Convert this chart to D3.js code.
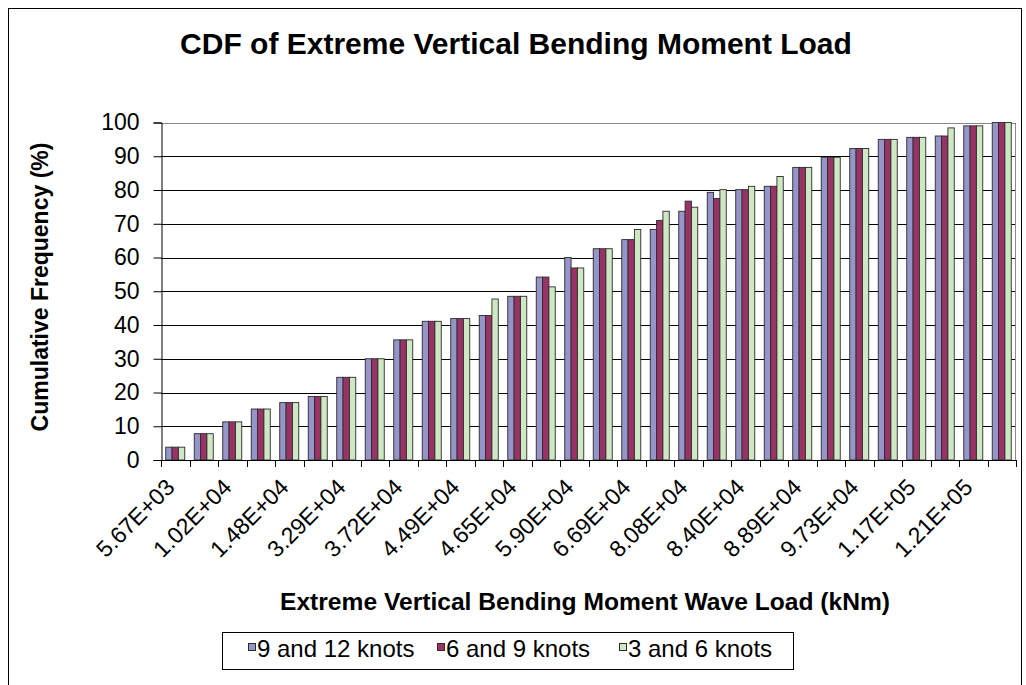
<!DOCTYPE html>
<html>
<head>
<meta charset="utf-8">
<script src="https://cdn.jsdelivr.net/npm/d3@7"></script>
<style>
  body { margin: 0; background: #fff; }
  text { font-family: "Liberation Sans", Arial, sans-serif; fill: #000; }
</style>
</head>
<body>
<div id="chart"></div>
<script>
/* DATA */
// every other category carries a label in the original chart
const categories = [
  "5.67E+03", "", "1.02E+04", "", "1.48E+04", "", "3.29E+04", "", "3.72E+04", "",
  "4.49E+04", "", "4.65E+04", "", "5.90E+04", "", "6.69E+04", "", "8.08E+04", "",
  "8.40E+04", "", "8.89E+04", "", "9.73E+04", "", "1.17E+05", "", "1.21E+05", ""
];
const seriesNames = ["9 and 12 knots", "6 and 9 knots", "3 and 6 knots"];
const knots9to12 = [3.8, 7.8, 11.3, 15.1, 17.0, 18.8, 24.5, 30.0, 35.6, 41.1,
  41.9, 42.8, 48.5, 54.2, 60.0, 62.6, 65.3, 68.3, 73.7, 79.3,
  80.1, 81.1, 86.7, 89.7, 92.3, 95.0, 95.6, 96.0, 99.0, 100];
const knots6to9 = [3.8, 7.8, 11.3, 15.1, 17.0, 18.8, 24.5, 30.0, 35.6, 41.1,
  41.9, 42.8, 48.5, 54.2, 56.9, 62.6, 65.3, 71.0, 76.7, 77.5,
  80.1, 81.1, 86.7, 89.7, 92.3, 95.0, 95.6, 96.0, 99.0, 100];
const knots3to6 = [3.8, 7.8, 11.3, 15.1, 17.0, 18.8, 24.5, 30.0, 35.6, 41.1,
  41.9, 47.7, 48.5, 51.3, 56.9, 62.6, 68.3, 73.7, 74.9, 80.1,
  81.1, 84.0, 86.7, 89.7, 92.3, 95.0, 95.6, 98.4, 99.0, 100];
const yTicks = [0, 10, 20, 30, 40, 50, 60, 70, 80, 90, 100];

/* CONSTANTS */
const width = 1026, height = 685;
const margin = { top: 122.5, bottom: 225, left: 161, right: 10 };
const colors = ["#9595C9", "#993366", "#CFE8C4"];

const series = [knots9to12, knots6to9, knots3to6];
const rows = categories.map((c, i) => ({ i, label: c, values: series.map(s => s[i]) }));

const svg = d3.select("#chart").append("svg")
  .attr("width", width)
  .attr("height", height);

svg.append("rect")
  .attr("width", width).attr("height", height)
  .attr("fill", "#fff");

// chart area border
svg.append("rect")
  .attr("x", 8.5).attr("y", 8.5)
  .attr("width", 1013).attr("height", 700)
  .attr("fill", "none").attr("stroke", "#000");

/* SCALES */
const x0 = d3.scaleBand()
  .domain(d3.range(categories.length))
  .range([margin.left, 1016])
  .paddingInner(1 / 3)
  .paddingOuter(1 / 6);

const x1 = d3.scaleBand()
  .domain(d3.range(series.length))
  .range([0, x0.bandwidth()]);

const y = d3.scaleLinear()
  .domain([0, 100])
  .range([460, margin.top]);

// gridlines
svg.append("g")
  .selectAll("line")
  .data(yTicks.filter(d => d > 0))
  .join("line")
  .attr("x1", margin.left).attr("x2", 1016)
  .attr("y1", d => Math.round(y(d)) + 0.5)
  .attr("y2", d => Math.round(y(d)) + 0.5)
  .attr("stroke", "#000");

// plot area border (top / right)
svg.append("path")
  .attr("d", `M${margin.left},${Math.round(y(100)) + 0.5}H1015.5V460`)
  .attr("fill", "none")
  .attr("stroke", "#8a8a8a");

/* BARS */
svg.append("g")
  .selectAll("g")
  .data(rows)
  .join("g")
  .attr("transform", d => `translate(${x0(d.i)},0)`)
  .selectAll("rect")
  .data(d => d.values.map((v, k) => ({ k, v })))
  .join("rect")
  .attr("x", d => x1(d.k))
  .attr("width", x1.bandwidth())
  .attr("y", d => y(d.v))
  .attr("height", d => y(0) - y(d.v))
  .attr("fill", d => colors[d.k])
  .attr("stroke", "#2b2b2b")
  .attr("stroke-width", 0.9);

/* AXES */
const yAxis = d3.axisLeft(y).tickValues(yTicks).tickSize(8).tickPadding(14);
svg.append("g")
  .attr("transform", `translate(${margin.left + 0.5},0)`)
  .call(yAxis)
  .call(g => g.select(".domain").attr("stroke", "#000"))
  .call(g => g.selectAll("text").attr("font-size", 23).attr("fill", "#000"));

// x axis line and ticks at every group boundary
const step = x0.step();
const xAxis = svg.append("g");
xAxis.append("line")
  .attr("x1", margin.left).attr("x2", 1016)
  .attr("y1", 460.5).attr("y2", 460.5)
  .attr("stroke", "#000");
xAxis.selectAll(".tick")
  .data(d3.range(categories.length + 1))
  .join("line")
  .attr("class", "tick")
  .attr("x1", d => Math.round(margin.left + d * step) + 0.5)
  .attr("x2", d => Math.round(margin.left + d * step) + 0.5)
  .attr("y1", 460).attr("y2", 467)
  .attr("stroke", "#000");

xAxis.selectAll(".xlabel")
  .data(rows.filter(d => d.label !== ""))
  .join("text")
  .attr("class", "xlabel")
  .attr("transform", d => `translate(${x0(d.i) + x0.bandwidth() / 2 - 5},483) rotate(-45)`)
  .attr("text-anchor", "end")
  .attr("dy", "0.35em")
  .attr("font-size", 23)
  .text(d => d.label);

/* TITLES */
svg.append("text")
  .attr("x", 516).attr("y", 54)
  .attr("text-anchor", "middle")
  .attr("font-size", 30)
  .attr("font-weight", "bold")
  .text("CDF of Extreme Vertical Bending Moment Load");

svg.append("text")
  .attr("x", 585).attr("y", 610)
  .attr("text-anchor", "middle")
  .attr("font-size", 24.6)
  .attr("font-weight", "bold")
  .text("Extreme Vertical Bending Moment Wave Load (kNm)");

svg.append("text")
  .attr("transform", "translate(48,287) rotate(-90)")
  .attr("text-anchor", "middle")
  .attr("font-size", 23)
  .attr("font-weight", "bold")
  .text("Cumulative Frequency (%)");

/* LEGEND */
const legend = svg.append("g");
legend.append("rect")
  .attr("x", 222.5).attr("y", 632.5)
  .attr("width", 571).attr("height", 37)
  .attr("fill", "#fff").attr("stroke", "#000");

const legendX = [248, 437, 619];
const item = legend.selectAll(".item")
  .data(seriesNames)
  .join("g")
  .attr("class", "item")
  .attr("transform", (d, i) => `translate(${legendX[i]},0)`);
item.append("rect")
  .attr("x", 0.5).attr("y", 643.5)
  .attr("width", 7).attr("height", 7)
  .attr("fill", (d, i) => colors[i])
  .attr("stroke", "#2b2b2b");
item.append("text")
  .attr("x", 9).attr("y", 657)
  .attr("font-size", 24)
  .text(d => d);
</script>
</body>
</html>
